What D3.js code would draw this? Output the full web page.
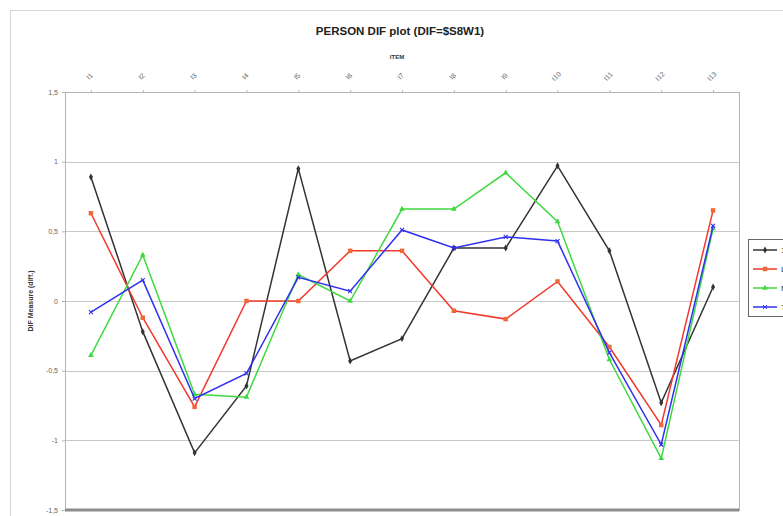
<!DOCTYPE html>
<html>
<head>
<meta charset="utf-8">
<script src="https://cdn.jsdelivr.net/npm/d3@7"></script>
<style>
	body{margin:0;background:#fff;overflow:hidden;}
	text{font-family:"Liberation Sans",Arial,sans-serif;}
</style>
</head>
<body>
<div id="idChart"></div>
<script>
var aItems=["I1","I2","I3","I4","I5","I6","I7","I8","I9","I10","I11","I12","I13"];
var aSeriesNames=["1","L","M","T"];
var aBlack=[0.89,-0.22,-1.09,-0.61,0.95,-0.43,-0.27,0.38,0.38,0.97,0.36,-0.73,0.10];
var aRed=[0.63,-0.12,-0.76,0.00,0.00,0.36,0.36,-0.07,-0.13,0.14,-0.33,-0.89,0.65];
var aGreen=[-0.39,0.33,-0.67,-0.69,0.19,0.00,0.66,0.66,0.92,0.57,-0.42,-1.13,0.52];
var aBlue=[-0.08,0.15,-0.70,-0.52,0.17,0.07,0.51,0.38,0.46,0.43,-0.37,-1.03,0.54];
var aYTicks=[-1.5,-1,-0.5,0,0.5,1,1.5];

function DrawDIFChart()
{
	var iWidth=783;
	var iHeight=516;
	var oPlot={left:65,right:739,top:92,bottom:510};

	var mySeries=[
		{sName:aSeriesNames[0],aValues:aBlack,sLine:"#333333",sFill:"#333333",sShape:"diamond"},
		{sName:aSeriesNames[1],aValues:aRed,sLine:"#f2392b",sFill:"#f0673a",sShape:"square"},
		{sName:aSeriesNames[2],aValues:aGreen,sLine:"#3fd83f",sFill:"#3fd83f",sShape:"triangle"},
		{sName:aSeriesNames[3],aValues:aBlue,sLine:"#3030f0",sFill:"#3030f0",sShape:"cross"}
	];

	var mySvg=d3.select("#idChart").append("svg")
		.attr("width",iWidth)
		.attr("height",iHeight);

	// outer chart frame
	mySvg.append("rect")
		.attr("x",10.5).attr("y",10.5)
		.attr("width",800).attr("height",520)
		.attr("fill","none")
		.attr("stroke","#d4d4d4");

	var xScale=d3.scalePoint()
		.domain(aItems)
		.range([oPlot.left,oPlot.right])
		.padding(0.5);

	var yScale=d3.scaleLinear()
		.domain([-1.5,1.5])
		.range([oPlot.bottom,oPlot.top]);

	// grid lines
	mySvg.append("g").selectAll("line")
		.data(aYTicks.filter(function(v){return v>-1.5 && v<1.5;}))
		.enter().append("line")
			.attr("x1",oPlot.left).attr("x2",oPlot.right)
			.attr("y1",function(v){return Math.round(yScale(v))+0.5;})
			.attr("y2",function(v){return Math.round(yScale(v))+0.5;})
			.attr("stroke","#c8c8c8");

	// plot border
	mySvg.append("rect")
		.attr("x",oPlot.left+0.5).attr("y",oPlot.top+0.5)
		.attr("width",oPlot.right-oPlot.left).attr("height",oPlot.bottom-oPlot.top)
		.attr("fill","none")
		.attr("stroke","#b4b4b4");

	// thick bottom line
	mySvg.append("line")
		.attr("x1",oPlot.left).attr("x2",oPlot.right)
		.attr("y1",oPlot.bottom).attr("y2",oPlot.bottom)
		.attr("stroke","#8c8c8c")
		.attr("stroke-width",3);

	// y axis
	var yAxis=d3.axisLeft(yScale)
		.tickValues(aYTicks)
		.tickSize(3)
		.tickFormat(function(v){return String(v).replace(".",",");});
	var gY=mySvg.append("g")
		.attr("transform","translate("+oPlot.left+",0)")
		.call(yAxis);
	gY.select(".domain").remove();
	gY.selectAll(".tick line").attr("stroke","#b4b4b4");
	gY.selectAll(".tick text")
		.attr("x",-7)
		.attr("font-size",7)
		.attr("fill","#666")
		.attr("font-family","Liberation Sans, Arial, sans-serif");

	// x axis on top, small ticks on the border
	var xAxis=d3.axisTop(xScale).tickSize(2);
	var gX=mySvg.append("g")
		.attr("transform","translate(0,"+oPlot.top+")")
		.call(xAxis);
	gX.select(".domain").remove();
	gX.selectAll(".tick line").attr("stroke","#b4b4b4");
	gX.selectAll(".tick text")
		.attr("font-size",7)
		.attr("fill","#666")
		.attr("font-family","Liberation Sans, Arial, sans-serif")
		.attr("text-anchor","middle")
		.attr("dy",0)
		.attr("y",0)
		.attr("transform","translate(0,-14) rotate(-45)");

	// titles
	mySvg.append("text")
		.attr("x",400).attr("y",35)
		.attr("text-anchor","middle")
		.attr("font-size",11.5)
		.attr("font-weight","bold")
		.attr("fill","#222")
		.text("PERSON DIF plot (DIF=$S8W1)");

	mySvg.append("text")
		.attr("x",397).attr("y",59)
		.attr("text-anchor","middle")
		.attr("font-size",6)
		.attr("font-weight","bold")
		.attr("fill","#333")
		.text("ITEM");

	mySvg.append("text")
		.attr("transform","translate(33,301) rotate(-90)")
		.attr("text-anchor","middle")
		.attr("font-size",7)
		.attr("font-weight","bold")
		.attr("fill","#333")
		.text("DIF Measure (diff.)");

	var fLine=d3.line()
		.x(function(v,i){return xScale(aItems[i]);})
		.y(function(v){return yScale(v);});

	function fSymbol(sShape)
	{
		var oType={diamond:d3.symbolDiamond,square:d3.symbolSquare,triangle:d3.symbolTriangle,cross:d3.symbolX}[sShape];
		var iSize={diamond:14,square:20,triangle:14,cross:12}[sShape];
		return d3.symbol().type(oType).size(iSize)();
	}

	var gSeries=mySvg.append("g").selectAll("g")
		.data(mySeries)
		.enter().append("g");

	gSeries.append("path")
		.attr("d",function(s){return fLine(s.aValues);})
		.attr("fill","none")
		.attr("stroke",function(s){return s.sLine;})
		.attr("stroke-width",1.5);

	gSeries.each(function(s){
		d3.select(this).selectAll(".mark")
			.data(s.aValues)
			.enter().append("path")
				.attr("class","mark")
				.attr("transform",function(v,i){return "translate("+xScale(aItems[i])+","+yScale(v)+")";})
				.attr("d",fSymbol(s.sShape))
				.attr("fill",s.sFill)
				.attr("stroke",s.sShape=="cross"?s.sFill:"none")
				.attr("stroke-width",1.1);
	});

	// legend (cut by the window edge, as in the original)
	var gLegend=mySvg.append("g")
		.attr("transform","translate(748,239)");
	gLegend.append("rect")
		.attr("x",0.5).attr("y",0.5)
		.attr("width",60).attr("height",77)
		.attr("fill","#fff")
		.attr("stroke","#666");
	var gEntry=gLegend.selectAll(".entry")
		.data(mySeries)
		.enter().append("g")
			.attr("class","entry")
			.attr("transform",function(s,i){return "translate(0,"+(11+i*19)+")";});
	gEntry.append("line")
		.attr("x1",5).attr("x2",29)
		.attr("stroke",function(s){return s.sLine;})
		.attr("stroke-width",1.5);
	gEntry.append("path")
		.attr("transform","translate(17,0)")
		.attr("d",function(s){return fSymbol(s.sShape);})
		.attr("fill",function(s){return s.sFill;})
		.attr("stroke",function(s){return s.sShape=="cross"?s.sFill:"none";});
	gEntry.append("text")
		.attr("x",33).attr("y",3)
		.attr("font-size",8)
		.attr("fill","#333")
		.text(function(s){return s.sName;});
}

DrawDIFChart();
</script>
</body>
</html>
